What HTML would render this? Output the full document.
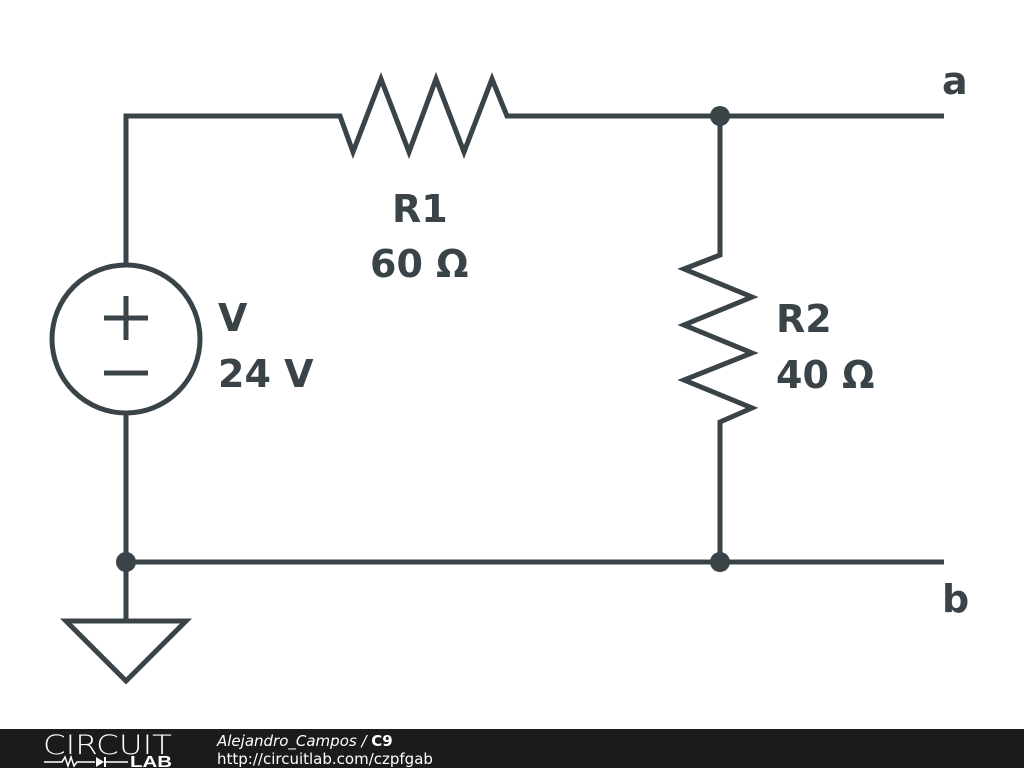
<!DOCTYPE html>
<html><head><style>
body{margin:0;width:1024px;height:768px;background:#fff;overflow:hidden;position:relative;font-family:"Liberation Sans","DejaVu Sans",sans-serif}
</style></head><body>
<svg width="1024" height="768" style="position:absolute;left:0;top:0">
<g stroke="#3a4347" stroke-width="5" fill="none" stroke-linejoin="miter">
<polyline points="126,265 126,116 340,116 353,152 381,79 409,152 436,79 464,152 492,79 507,116 944,116"/>
<polyline points="720,116 720,255 684,269 752,297 684,325 752,353 684,380 752,408 720,422 720,562"/>
<polyline points="126,413 126,620"/>
<line x1="126" y1="562" x2="944" y2="562"/>
<circle cx="126" cy="339" r="74"/>
<line x1="104" y1="318" x2="148" y2="318"/>
<line x1="126" y1="296" x2="126" y2="340"/>
<line x1="104" y1="373" x2="148" y2="373"/>
<polygon points="66,621 186,621 126,681"/>
</g>
<circle cx="720" cy="116" r="10" fill="#3a4347" stroke="none"/>
<circle cx="720" cy="562" r="10" fill="#3a4347" stroke="none"/>
<circle cx="126" cy="562" r="10" fill="#3a4347" stroke="none"/>
<g fill="#3a4347" font-weight="bold" font-size="38" font-family="'DejaVu Sans',sans-serif">
<text x="392" y="222">R1</text>
<text x="370" y="277">60 Ω</text>
<text x="218" y="331">V</text>
<text x="218" y="387">24 V</text>
<text x="776" y="332">R2</text>
<text x="776" y="388">40 Ω</text>
<text x="942" y="94">a</text>
<text x="942" y="612">b</text>
</g>
<rect x="0" y="729" width="1024" height="39" fill="#1b1b1b"/>
<text x="43" y="754" fill="#fff" font-size="27" font-family="'DejaVu Sans',sans-serif" font-weight="200" textLength="129" lengthAdjust="spacingAndGlyphs">CIRCUIT</text>
<polyline points="44,762 62,762 65,757 68,766 71,757 74,766 77,762 95,762" stroke="#fff" stroke-width="1.5" fill="none"/>
<polygon points="96,757 96,767 104,762" fill="#fff"/>
<line x1="105" y1="757" x2="105" y2="767" stroke="#fff" stroke-width="2"/>
<line x1="105" y1="762" x2="128" y2="762" stroke="#fff" stroke-width="1.5"/>
<text x="130" y="767" fill="#fff" font-size="16" font-weight="bold" textLength="42" lengthAdjust="spacingAndGlyphs">LAB</text>
<text x="217" y="746" fill="#fff" font-size="15" font-style="italic" font-family="'DejaVu Sans',sans-serif">Alejandro_Campos / <tspan font-style="normal" font-weight="bold">C9</tspan></text>
<text x="217" y="764" fill="#fff" font-size="15" font-family="'DejaVu Sans',sans-serif">http://circuitlab.com/czpfgab</text>
</svg>
</body></html>
